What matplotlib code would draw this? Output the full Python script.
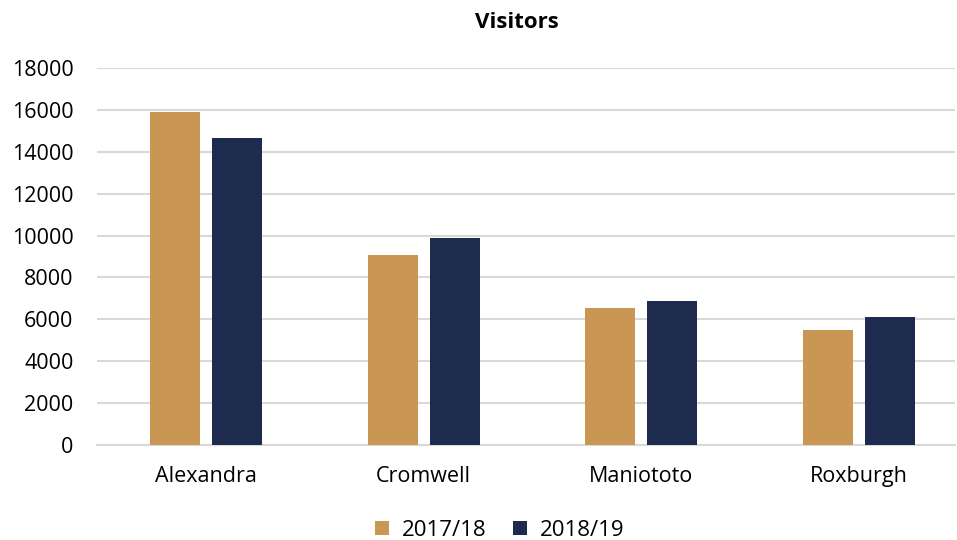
import matplotlib.pyplot as plt
import numpy as np

# visitor counts per site and season
sites = ["Alexandra", "Cromwell", "Maniototo", "Roxburgh"]
visitors_1718 = [15920, 9080, 6530, 5470]
visitors_1819 = [14650, 9860, 6860, 6130]
season_labels = ["2017/18", "2018/19"]
y_ticks = np.arange(0, 18001, 2000)

gold = "#C99654"
navy = "#1C2B4E"

plt.rcParams["font.family"] = ["Open Sans", "DejaVu Sans"]

fig = plt.figure(figsize=(9.57, 5.4), dpi=100)
ax = fig.add_axes([97 / 957, 1 - 445 / 540, (955 - 97) / 957, (445 - 68) / 540])

x = np.arange(len(sites))
width = 0.23
gap = 0.055
ax.bar(x - (width + gap) / 2, visitors_1718, width, color=gold, label=season_labels[0], zorder=3)
ax.bar(x + (width + gap) / 2, visitors_1819, width, color=navy, label=season_labels[1], zorder=3)

# finalise layout
ax.set_ylim(0, 18000)
ax.set_xlim(-0.5, 3.44)
ax.set_yticks(y_ticks)
ax.set_yticklabels([str(v) for v in y_ticks], fontsize=15.5)
ax.set_xticks(x)
ax.set_xticklabels(sites, fontsize=15.5)
ax.tick_params(axis="y", length=0, pad=17)
ax.tick_params(axis="x", length=0, pad=15)
ax.grid(axis="y", color="#D9D9D9", linewidth=1.5, zorder=0)
for side in ["top", "right", "left"]:
    ax.spines[side].set_visible(False)
ax.spines["bottom"].set_color("#D9D9D9")
ax.spines["bottom"].set_linewidth(1.5)

fig.text(517 / 957, 1 - 22 / 540, "Visitors", ha="center", va="center",
         fontsize=16, fontweight="bold")

fig.legend(loc="center", bbox_to_anchor=(500 / 957, 1 - 530 / 540), ncol=2,
           frameon=False, fontsize=16, handlelength=0.6, handleheight=0.6,
           handletextpad=0.6, columnspacing=1.2)

fig.savefig("out.png", dpi=100)
